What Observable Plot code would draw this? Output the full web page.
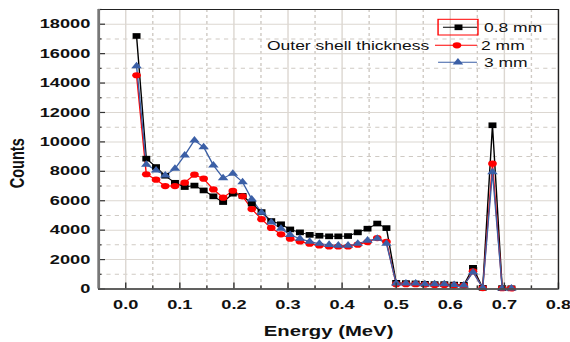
<!DOCTYPE html>
<html>
<head>
<meta charset="utf-8">
<script src="https://cdn.jsdelivr.net/npm/d3@7"></script>
<script src="https://cdn.jsdelivr.net/npm/@observablehq/plot@0.6"></script>
<style>
  html, body { margin: 0; padding: 0; background: #fff; overflow: hidden; }
  #wrap { width: 407px; height: 342px; transform: scaleX(1.4); transform-origin: 0 0; }
  svg { font-family: "Liberation Sans", Arial, sans-serif; }
</style>
</head>
<body>
<div id="wrap"></div>
<script>
// ---- data ----
const energy = [0.020,0.038,0.056,0.073,0.091,0.109,0.127,0.144,0.162,0.180,
                0.198,0.216,0.233,0.251,0.269,0.287,0.304,0.322,0.340,0.358,
                0.376,0.393,0.411,0.429,0.447,0.465,0.482,0.500,0.518,0.536,
                0.553,0.571,0.589,0.607,0.625,0.642,0.660,0.678,0.696,0.713];
const counts08 = [17200,8860,8290,7700,7220,6930,7030,6700,6300,5910,
                  6480,6330,5800,5230,4620,4400,4050,3850,3680,3620,
                  3580,3580,3600,3850,4100,4450,4140,420,400,380,
                  350,330,330,300,280,1440,80,11130,60,50];
const counts2  = [14530,7800,7430,7000,7000,7230,7770,7500,6770,6210,
                  6680,6300,5430,4750,4150,3720,3420,3230,3080,2960,
                  2890,2890,2890,3010,3190,3460,3200,330,330,330,
                  300,280,280,250,230,1200,60,8520,50,40];
const counts3  = [15150,8450,8070,7730,8180,9090,10110,9650,8410,7540,
                  7840,7270,6100,5200,4530,4100,3680,3420,3230,3080,
                  3010,2960,2960,3080,3300,3420,3080,380,380,380,
                  330,330,330,280,250,1140,80,7950,50,40];
const seriesNames = ["0.8 mm", "2 mm", "3 mm"];
const legendTitle = "Outer shell thickness";
const xTicks = [0.0,0.1,0.2,0.3,0.4,0.5,0.6,0.7,0.8];
const xMinor = [0.05,0.15,0.25,0.35,0.45,0.55,0.65,0.75];
const yTicks = [0,2000,4000,6000,8000,10000,12000,14000,16000,18000];
const yMinor = [1000,3000,5000,7000,9000,11000,13000,15000,17000,19000];
const xTitle = "Energy (MeV)";
const yTitle = "Counts";

// ---- layout ----
const W = 407, H = 342, ML = 70, MR = 8.6, MT = 9, MB = 53.5;
const innerW = W - ML - MR, innerH = H - MT - MB;
const colors = ["#000000", "#ff0000", "#3b5fa6"];
const symbols = ["square", "circle", "triangle"];
const radii = [3.2, 3.1, 2.8];

const seriesValues = [counts08, counts2, counts3];
const tables = seriesValues.map((vals, s) =>
  energy.map((e, i) => ({energy: e, counts: vals[i], series: seriesNames[s]})));

const dataMarks = [];
tables.forEach((t, s) => {
  dataMarks.push(Plot.line(t, {x: "energy", y: "counts", stroke: colors[s], strokeWidth: 1}));
});
tables.forEach((t, s) => {
  dataMarks.push(Plot.dot(t, {x: "energy", y: "counts", symbol: symbols[s], r: radii[s],
                              fill: colors[s], stroke: "none"}));
});

const chart = Plot.plot({
  width: W, height: H,
  marginLeft: ML, marginRight: MR, marginTop: MT, marginBottom: MB,
  x: {domain: [-0.05, 0.8]},
  y: {domain: [0, 19000]},
  style: {background: "#fff", fontFamily: "'Liberation Sans', Arial, sans-serif"},
  marks: [
    Plot.ruleX(xMinor, {stroke: "#cfcac4", strokeDasharray: "3,3", strokeWidth: 1}),
    Plot.ruleY(yMinor, {stroke: "#cfcac4", strokeDasharray: "3,3", strokeWidth: 1}),
    Plot.ruleX(xTicks, {stroke: "#dcd7d1", strokeWidth: 1}),
    Plot.ruleY(yTicks, {stroke: "#dcd7d1", strokeWidth: 1}),
    ...dataMarks,
    // inward ticks
    Plot.tickY(yTicks, {y: d => d, insetRight: innerW - 5, stroke: "#333", strokeWidth: 1.2}),
    Plot.tickY(yMinor, {y: d => d, insetRight: innerW - 2.5, stroke: "#333", strokeWidth: 1.2}),
    Plot.tickX(xTicks, {x: d => d, insetTop: innerH - 6, stroke: "#333", strokeWidth: 1}),
    Plot.tickX(xMinor, {x: d => d, insetTop: innerH - 3, stroke: "#333", strokeWidth: 1}),
    // frame
    Plot.frame({stroke: "#222", strokeWidth: 1}),
    Plot.ruleX([-0.05], {stroke: "#777", strokeWidth: 2}),
    Plot.ruleY([0], {stroke: "#555", strokeWidth: 1.6}),
    Plot.axisY({ticks: yTicks, tickSize: 0, tickPadding: 6, label: null,
                tickFormat: d3.format("d"), fontSize: 13, fontWeight: "bold", fill: "#111"}),
    Plot.axisX({ticks: xTicks, tickSize: 0, tickPadding: 11, label: null,
                tickFormat: d3.format(".1f"), fontSize: 13, fontWeight: "bold", fill: "#111"}),
    Plot.text([xTitle], {frameAnchor: "bottom", dy: 42, fontSize: 14.5, fontWeight: "bold",
                         lineAnchor: "middle", textAnchor: "middle", fill: "#111"}),
    Plot.text([yTitle], {frameAnchor: "left", rotate: -90, dx: -58, dy: 14, fontSize: 14.5,
                         fontWeight: "bold", lineAnchor: "middle", textAnchor: "middle", fill: "#111"})
  ]
});

document.getElementById("wrap").appendChild(chart);

// ---- in-plot legend ----
const svg = d3.select(chart);
const lg = svg.append("g").attr("font-size", 12.5).attr("fill", "#111")
  .attr("text-anchor", "start");
const rows = [
  {y: 27.3, x1: 316.4, x2: 340.7, mx: 327.5, tx: 345.7},
  {y: 45.3, x1: 310.7, x2: 340.7, mx: 326.4, tx: 343.6},
  {y: 62.3, x1: 312.9, x2: 340.7, mx: 327.1, tx: 345.7}
];
const symTypes = [d3.symbolSquare, d3.symbolCircle, d3.symbolTriangle];
lg.append("rect").attr("x", 312.9).attr("y", 19.3).attr("width", 28.5).attr("height", 15.7)
  .attr("fill", "none").attr("stroke", "#ff0000").attr("stroke-width", 1);
rows.forEach((r, i) => {
  lg.append("line").attr("x1", r.x1).attr("x2", r.x2).attr("y1", r.y).attr("y2", r.y)
    .attr("stroke", colors[i]).attr("stroke-width", 1);
  lg.append("path").attr("d", d3.symbol(symTypes[i], Math.PI * radii[i] * radii[i])())
    .attr("transform", `translate(${r.mx},${r.y})`).attr("fill", colors[i]);
  lg.append("text").attr("x", r.tx).attr("y", r.y).attr("dy", "0.35em").text(seriesNames[i]);
});
lg.append("text").attr("x", 190.7).attr("y", 45.3).attr("dy", "0.35em").text(legendTitle);
</script>
</body>
</html>
